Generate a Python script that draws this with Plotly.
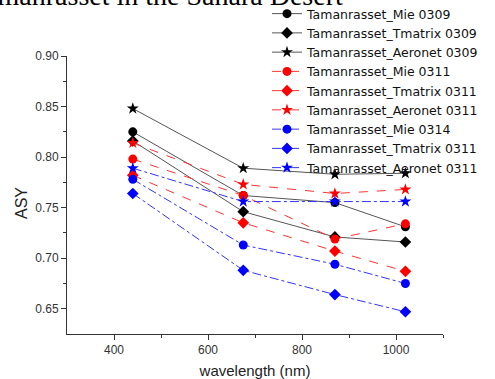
import plotly.graph_objects as go

wavelength = [440, 675, 870, 1020]

mie_0309 = [0.825, 0.762, 0.755, 0.731]
tmatrix_0309 = [0.816, 0.746, 0.721, 0.716]
aeronet_0309 = [0.848, 0.789, 0.783, 0.784]
mie_0311 = [0.798, 0.762, 0.719, 0.734]
tmatrix_0311 = [0.782, 0.735, 0.707, 0.687]
aeronet_0311 = [0.814, 0.773, 0.764, 0.768]
mie_0314 = [0.778, 0.713, 0.694, 0.675]
tmatrix_0314 = [0.764, 0.688, 0.664, 0.647]
aeronet_0314 = [0.789, 0.756, 0.756, 0.756]

series = [
    ("Tamanrasset_Mie 0309", mie_0309, "#555555", "black", "solid", "circle", 9),
    ("Tamanrasset_Tmatrix 0309", tmatrix_0309, "#555555", "black", "solid", "diamond", 9),
    ("Tamanrasset_Aeronet 0309", aeronet_0309, "#555555", "black", "solid", "star", 9),
    ("Tamanrasset_Mie 0311", mie_0311, "#ff3333", "#ff0000", "dash", "circle", 9),
    ("Tamanrasset_Tmatrix 0311", tmatrix_0311, "#ff3333", "#ff0000", "dash", "diamond", 9),
    ("Tamanrasset_Aeronet 0311", aeronet_0311, "#ff3333", "#ff0000", "dash", "star", 9),
    ("Tamanrasset_Mie 0314", mie_0314, "#3333ff", "#0000ff", "dashdot", "circle", 9),
    ("Tamanrasset_Tmatrix 0311", tmatrix_0314, "#3333ff", "#0000ff", "dashdot", "diamond", 9),
    ("Tamanrasset_Aeronet 0311", aeronet_0314, "#3333ff", "#0000ff", "dashdot", "star", 9),
]

fig = go.Figure()
for name, vals, lc, mc, dash, sym, sz in series:
    fig.add_trace(go.Scatter(
        x=wavelength, y=vals, name=name, mode="lines+markers",
        line=dict(color=lc, width=1, dash=dash),
        marker=dict(symbol=sym, size=sz, color=mc, line=dict(width=0)),
    ))

axis_common = dict(
    showgrid=False, zeroline=False, showline=True, linecolor="#333333", linewidth=1,
    ticks="outside", ticklen=5, tickcolor="#333333",
    tickfont=dict(family="Liberation Sans, Arial", size=12, color="#333333"),
    minor=dict(ticks="outside", ticklen=3, tickcolor="#333333"),
    mirror=False, automargin=False,
)

fig.update_xaxes(range=[300, 1100], tickvals=[400, 600, 800, 1000],
                 minor_tickvals=[500, 700, 900, 1100],
                 title=dict(text="wavelength (nm)", font=dict(family="Liberation Sans, Arial", size=15, color="#222222"), standoff=20),
                 **axis_common)
fig.update_yaxes(range=[0.625, 0.90], tickvals=[0.65, 0.70, 0.75, 0.80, 0.85, 0.90],
                 ticktext=["0.65", "0.70", "0.75", "0.80", "0.85", "0.90"],
                 minor_tickvals=[0.675, 0.725, 0.775, 0.825, 0.875],
                 **axis_common)

# y-axis title
fig.add_annotation(
    text="ASY", xref="paper", yref="paper",
    x=(21 - 67) / 376, y=1 - (203 - 56) / 278, xanchor="center", yanchor="middle",
    textangle=-90, showarrow=False,
    font=dict(family="Liberation Sans, Arial", size=16, color="#222222"),
)

# chart title (cut at top, as in the reference)
fig.add_annotation(
    text="Tamanrasset in the Sahara Desert", xref="paper", yref="paper",
    x=(345 - 67) / 376, y=1 + (56 - 13) / 278, xanchor="right", yanchor="bottom",
    showarrow=False, font=dict(family="Liberation Serif, Times New Roman", size=28, color="black"),
)

fig.update_layout(
    width=495, height=379,
    margin=dict(l=67, r=52, t=56, b=45, autoexpand=False),
    paper_bgcolor="white", plot_bgcolor="white",
    showlegend=True,
    legend=dict(x=(267 - 67) / 376, y=1 + (56 + 1) / 278, xanchor="left", yanchor="top",
                bgcolor="rgba(0,0,0,0)", borderwidth=0, tracegroupgap=0, maxheight=500,
                font=dict(family="DejaVu Sans", size=12.5, color="#111111")),
)

fig.write_html("out.html")
